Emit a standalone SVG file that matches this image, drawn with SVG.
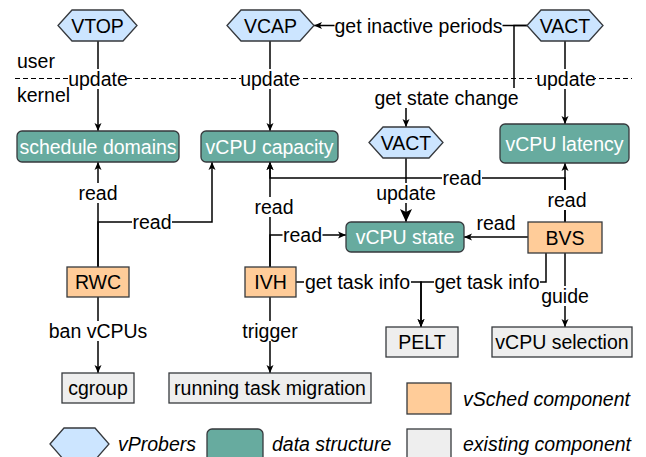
<svg xmlns="http://www.w3.org/2000/svg" width="646" height="457" viewBox="0 0 646 457">
<style>
text{font-family:"Liberation Sans",Arial,Helvetica,sans-serif;font-size:19.5px;fill:#000}
.c{text-anchor:middle;dominant-baseline:central}
.w{fill:#fff}
.it{font-style:italic;dominant-baseline:central}
.hex{fill:#cce5ff;stroke:#36393d;stroke-width:1.3}
.ds{fill:#67ab9f;stroke:#36393d;stroke-width:1.3}
.vs{fill:#ffcc99;stroke:#36393d;stroke-width:1.3}
.ex{fill:#eeeeee;stroke:#36393d;stroke-width:1.3}
.e{fill:none;stroke:#000;stroke-width:1.5}
.a{marker-end:url(#arr)}
.bg{fill:#fff}
</style>
<defs>
<marker id="arr" markerUnits="userSpaceOnUse" markerWidth="10" markerHeight="10" refX="8" refY="4" orient="auto">
<path d="M0,0.5 L8,4 L0,7.5 L2,4 z" fill="#000"/>
</marker>
<marker id="big" markerUnits="userSpaceOnUse" markerWidth="16" markerHeight="16" refX="13" refY="6" orient="auto">
<path d="M0,0 L13,6 L0,12 L3,6 z" fill="#000"/>
</marker>
</defs>
<rect width="646" height="457" fill="#fff"/>
<g id="boundary">
<line x1="15" y1="78.5" x2="632" y2="78.5" stroke="#000" stroke-width="1.2" stroke-dasharray="5,3"/>
<text x="17" y="61" style="dominant-baseline:central">user</text>
<text x="17" y="95" style="dominant-baseline:central">kernel</text>
</g>
<g id="connectors">
<path class="e a" d="M98,41 L98,131"/>
<path class="e a" d="M270,41 L270,131"/>
<path class="e a" d="M565,41 L565,124"/>
<path class="e a" d="M527,25.5 L314,25.5"/>
<path class="e a" d="M527,25.5 L514,25.5 L514,98 L406,98 L406,127"/>
<path class="e" style="marker-end:url(#big)" d="M406,158 L406,222"/>
<path class="e a" d="M98,267 L98,162"/>
<path class="e a" d="M98,267 L98,222 L212,222 L212,162"/>
<path class="e a" d="M270,267 L270,162"/>
<path class="e a" d="M270,267 L270,235 L346,235"/>
<path class="e a" d="M565,222 L565,163"/>
<path class="e a" d="M565,222 L565,178 L270,178 L270,162"/>
<path class="e a" d="M528,237 L464,237"/>
<path class="e a" d="M296,282 L421,282 L421,327"/>
<path class="e a" d="M546,253 L546,282 L421,282 L421,327"/>
<path class="e a" d="M565,253 L565,327"/>
<path class="e a" d="M98,297 L98,373"/>
<path class="e a" d="M270,297 L270,373"/>
<g id="labels">
<rect class="bg" x="69" y="69" width="58" height="20"/><text class="c" x="98" y="79">update</text>
<rect class="bg" x="241" y="69" width="58" height="20"/><text class="c" x="270" y="79">update</text>
<rect class="bg" x="537" y="69" width="58" height="20"/><text class="c" x="566" y="79">update</text>
<rect class="bg" x="334.5" y="15.5" width="168" height="20"/><text class="c" x="418.5" y="25.5">get inactive periods</text>
<rect class="bg" x="373" y="88" width="147" height="20"/><text class="c" x="446.5" y="98">get state change</text>
<rect class="bg" x="376" y="183" width="60" height="20"/><text class="c" x="406" y="193">update</text>
<rect class="bg" x="78" y="183" width="40" height="20"/><text class="c" x="98" y="193">read</text>
<rect class="bg" x="132" y="212" width="40" height="20"/><text class="c" x="152" y="222">read</text>
<rect class="bg" x="254" y="197" width="40" height="20"/><text class="c" x="274" y="207">read</text>
<rect class="bg" x="282.5" y="225" width="40" height="20"/><text class="c" x="302.5" y="235">read</text>
<rect class="bg" x="547" y="190" width="40" height="20"/><text class="c" x="567" y="200">read</text>
<rect class="bg" x="442" y="168" width="40" height="20"/><text class="c" x="462" y="178">read</text>
<text class="c" x="496" y="223">read</text>
<rect class="bg" x="304" y="272" width="107" height="20"/><text class="c" x="357.5" y="282">get task info</text>
<rect class="bg" x="434" y="272" width="106" height="20"/><text class="c" x="487" y="282">get task info</text>
<rect class="bg" x="541" y="286" width="48" height="20"/><text class="c" x="565" y="296">guide</text>
<rect class="bg" x="49" y="321" width="98" height="20"/><text class="c" x="98" y="331">ban vCPUs</text>
<rect class="bg" x="242" y="321" width="56" height="20"/><text class="c" x="270" y="331">trigger</text>
</g>
</g>
<g id="VTOP"><polygon class="hex" points="58,25.5 72,10 123,10 137,25.5 123,41 72,41"/><text class="c" x="97.5" y="25.5">VTOP</text></g>
<g id="VCAP"><polygon class="hex" points="227,25.5 241,10 300,10 314,25.5 300,41 241,41"/><text class="c" x="270.5" y="25.5">VCAP</text></g>
<g id="VACT-top"><polygon class="hex" points="527,25.5 541,10 589,10 603,25.5 589,41 541,41"/><text class="c" x="565" y="25.5">VACT</text></g>
<g id="VACT-mid"><polygon class="hex" points="369,142.5 383,127 429,127 443,142.5 429,158 383,158"/><text class="c" x="406" y="142.5">VACT</text></g>
<g id="schedule-domains"><rect class="ds" x="17" y="131" width="162" height="31" rx="5"/><text class="c w" x="98" y="146.5">schedule domains</text></g>
<g id="vcpu-capacity"><rect class="ds" x="201" y="131" width="137" height="31" rx="5"/><text class="c w" x="269.5" y="146.5">vCPU capacity</text></g>
<g id="vcpu-latency"><rect class="ds" x="500" y="124" width="129" height="39" rx="5"/><text class="c w" x="564.5" y="143.5">vCPU latency</text></g>
<g id="vcpu-state"><rect class="ds" x="346" y="222" width="118" height="30" rx="5"/><text class="c w" x="405" y="237">vCPU state</text></g>
<g id="BVS"><rect class="vs" x="528" y="222" width="74" height="31"/><text class="c" x="565" y="237.5">BVS</text></g>
<g id="RWC"><rect class="vs" x="67" y="267" width="62" height="30"/><text class="c" x="98" y="282">RWC</text></g>
<g id="IVH"><rect class="vs" x="245" y="267" width="51" height="30"/><text class="c" x="270.5" y="282">IVH</text></g>
<g id="cgroup"><rect class="ex" x="62" y="373" width="72" height="30"/><text class="c" x="98" y="388">cgroup</text></g>
<g id="running-task-migration"><rect class="ex" x="169" y="373" width="202" height="30"/><text class="c" x="270" y="388">running task migration</text></g>
<g id="PELT"><rect class="ex" x="386" y="327" width="72" height="30"/><text class="c" x="422" y="342">PELT</text></g>
<g id="vcpu-selection"><rect class="ex" x="492" y="327" width="140" height="30"/><text class="c" x="562" y="342">vCPU selection</text></g>
<g id="legend">
<rect class="vs" x="407" y="383" width="44" height="31"/><text class="it" x="463" y="398.5">vSched component</text>
<polygon class="hex" points="50,444 64,428 95,428 109,444 95,460 64,460"/><text class="it" x="118" y="444">vProbers</text>
<rect class="ds" x="207" y="429" width="56" height="40" rx="5"/><text class="it" x="272" y="444">data structure</text>
<rect class="ex" x="407" y="429" width="44" height="40"/><text class="it" x="463" y="444">existing component</text>
</g>
</svg>
